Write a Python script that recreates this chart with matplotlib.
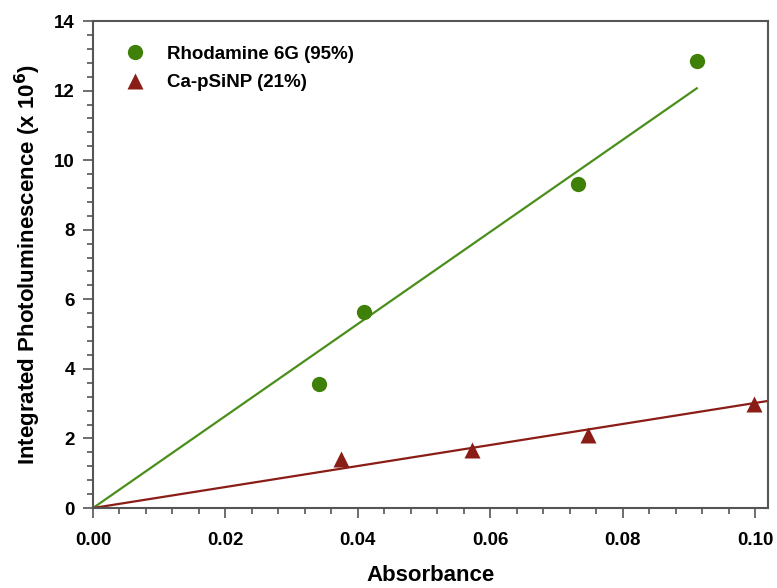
import numpy as np
import matplotlib
matplotlib.use("Agg")
import matplotlib.pyplot as plt
from matplotlib.ticker import MultipleLocator

# data
rh_abs = [0.0341, 0.0410, 0.0732, 0.0912]
rh_pl = [3.58, 5.65, 9.31, 12.86]
ca_abs = [0.0375, 0.0573, 0.0748, 0.0998]
ca_pl = [1.40, 1.67, 2.10, 2.99]

# linear fits through origin (slope in 10^6 per absorbance unit)
rh_slope = 132.3
ca_slope = 30.2
rh_fit_end = 0.0912
ca_fit_end = 0.102

GREEN = "#3f8008"
GREEN_LINE = "#4a8f1a"
RED = "#8b1d17"
SPINE = "#555555"

plt.rcParams["font.family"] = ["Liberation Sans", "DejaVu Sans"]
plt.rcParams["font.weight"] = "bold"

fig = plt.figure(figsize=(7.77, 5.88), dpi=100)
ax = fig.add_axes([0.1197, 0.136, 0.8687, 0.8282])

x_rh = np.array([0.0, rh_fit_end])
x_ca = np.array([0.0, ca_fit_end])
ax.plot(x_rh, rh_slope * x_rh, color=GREEN_LINE, lw=1.6, zorder=2)
ax.plot(x_ca, ca_slope * x_ca, color=RED, lw=1.6, zorder=2)

ax.plot(rh_abs, rh_pl, "o", color=GREEN, ms=11, mec="none", label="Rhodamine 6G (95%)", zorder=3)
ax.plot(ca_abs, ca_pl, "^", color=RED, ms=12, mec="none", label="Ca-pSiNP (21%)", zorder=3)

ax.set_xlim(0, 0.10196)
ax.set_ylim(0, 14)
ax.xaxis.set_major_locator(MultipleLocator(0.02))
ax.xaxis.set_minor_locator(MultipleLocator(0.004))
ax.yaxis.set_major_locator(MultipleLocator(2))
ax.yaxis.set_minor_locator(MultipleLocator(0.4))
ax.xaxis.set_major_formatter(plt.FuncFormatter(lambda v, p: f"{v:.2f}"))
ax.yaxis.set_major_formatter(plt.FuncFormatter(lambda v, p: f"{v:.0f}"))

for s in ax.spines.values():
    s.set_color(SPINE)
    s.set_linewidth(1.5)

ax.tick_params(which="both", direction="out", color=SPINE, width=1.2, top=False, right=False)
ax.tick_params(which="major", length=7, labelsize=13.5)
ax.tick_params(axis="x", which="major", pad=10)
ax.tick_params(axis="y", which="major", pad=6)
ax.tick_params(which="minor", length=4)
for lab in ax.get_xticklabels() + ax.get_yticklabels():
    lab.set_fontweight("bold")

ax.set_xlabel("Absorbance", fontsize=16, fontweight="bold", labelpad=12)
ax.set_ylabel("Integrated Photoluminescence (x 10$^{\\mathbf{6}}$)", fontsize=16, fontweight="bold", labelpad=8)

leg = ax.legend(loc="upper left", bbox_to_anchor=(0.010, 0.984), frameon=False,
                prop={"size": 13.5, "weight": "bold"}, handletextpad=0.7,
                labelspacing=0.6, numpoints=1)

fig.savefig("out.png", dpi=100)
